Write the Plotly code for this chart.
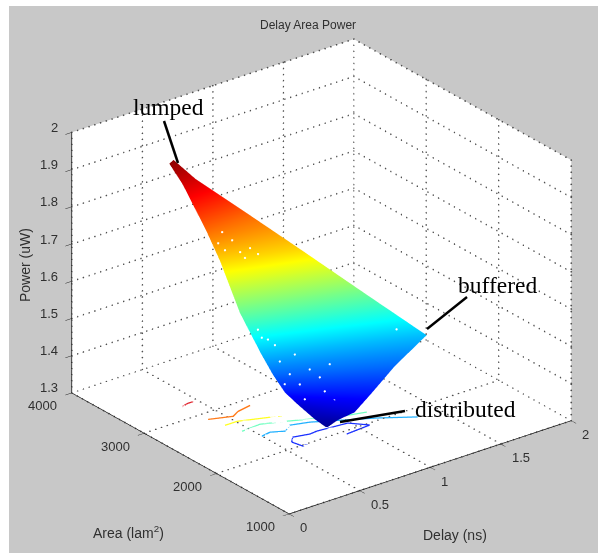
import numpy as np
import plotly.graph_objects as go

# --- surface: each row is one power level, left and right edge
power_rows = [1.94, 1.899, 1.808, 1.741, 1.625, 1.524, 1.473, 1.422, 1.381, 1.351, 1.336]
delay_left = [0.361, 0.381, 0.385, 0.401, 0.420, 0.490, 0.527, 0.589, 0.672, 0.719, 0.750]
delay_right = [0.411, 0.479, 0.701, 0.853, 1.130, 1.373, 1.135, 0.968, 0.862, 0.814, 0.760]
area_left = [3355, 3215, 2895, 2733, 2496, 2343, 2251, 2205, 2189, 2046, 1955]
area_right = [3397, 3226, 2903, 2511, 2128, 1776, 1753, 1747, 1775, 1914, 1945]

# --- small gaps seen in the surface
gap_delay = [.354, .382, .437, .461, .522, .555, .395, .481, .429, .497, .525, .578,
             .627, .600, .681, .731, .751, .804, .439, 1.150, .547, .472, .788, .641]
gap_area = [2669, 2629, 2638, 2574, 2556, 2510, 2694, 2546, 2266, 2164, 2151, 2116,
            2074, 2090, 2042, 2000, 1971, 1936, 2232, 1756, 2126, 2212, 1974, 2031]
gap_power = [1.802, 1.784, 1.803, 1.775, 1.780, 1.765, 1.824, 1.760, 1.604, 1.565, 1.519, 1.482,
             1.453, 1.535, 1.490, 1.467, 1.430, 1.406, 1.585, 1.570, 1.458, 1.578, 1.498, 1.416]

# --- floor contours
contours = {
    "#e0202a": ([0.383, 0.429, 0.471], [3218, 3239, 3239]),
    "#ff7a1a": ([0.394, 0.530, 0.592, 0.693], [2885, 2804, 2856, 2887]),
    "#ffff20": ([0.422, 0.508, 0.687, 0.852], [2706, 2706, 2600, 2509]),
    "#70ffc0": ([0.450, 0.586, 0.730, 1.020, 1.159], [2526, 2543, 2452, 2244, 2183]),
    "#20b0ff": ([0.499, 0.567, 0.641, 0.712, 0.825, 1.155, 1.346], [2347, 2368, 2307, 2375, 2319, 2040, 1846]),
    "#1a30ff": ([0.678, 0.602, 0.585, 0.629, 0.729, 0.784, 0.986, 1.068, 0.894],
                [1995, 1984, 2102, 2174, 2134, 2144, 2110, 1967, 1945]),
}

delay_ticks = [0, 0.5, 1, 1.5, 2]
area_ticks = [1000, 2000, 3000, 4000]
power_ticks = [1.3, 1.4, 1.5, 1.6, 1.7, 1.8, 1.9, 2]

jet = [[0, "#00008f"], [0.125, "#0000ff"], [0.375, "#00ffff"], [0.625, "#ffff00"],
       [0.875, "#ff0000"], [1, "#800000"]]
GRAY = "#c8c8c8"
TICK = "#303030"
W, H = 598, 553

fig = go.Figure()

dmax, amax, pmin, pmax = delay_ticks[-1], area_ticks[-1], power_ticks[0], power_ticks[-1]
dmin, amin = delay_ticks[0], area_ticks[0]

# dotted grid on the three back walls, as small dots along each tick line
gx, gy, gz = [], [], []
def grid(a, b, n):
    for t in np.linspace(0, 1, n):
        gx.append(a[0] + (b[0] - a[0]) * t)
        gy.append(a[1] + (b[1] - a[1]) * t)
        gz.append(a[2] + (b[2] - a[2]) * t)

for d in delay_ticks:
    grid((d, amax, pmin), (d, amax, pmax), 44)
    grid((d, amin, pmin), (d, amax, pmin), 42)
for a in area_ticks:
    grid((dmax, a, pmin), (dmax, a, pmax), 44)
    grid((dmin, a, pmin), (dmax, a, pmin), 50)
for p in power_ticks:
    grid((dmin, amax, p), (dmax, amax, p), 50)
    grid((dmax, amin, p), (dmax, amax, p), 42)

fig.add_trace(go.Scatter3d(x=gx, y=gy, z=gz, mode="markers", hoverinfo="skip", showlegend=False,
                           marker=dict(color="#505050", size=1.0, line=dict(width=0))))

for col, (dx, ax) in contours.items():
    fig.add_trace(go.Scatter3d(x=dx, y=ax, z=[pmin] * len(dx), mode="lines", hoverinfo="skip",
                               showlegend=False, line=dict(color=col, width=3)))

fig.add_trace(go.Surface(
    x=[[l, r] for l, r in zip(delay_left, delay_right)],
    y=[[l, r] for l, r in zip(area_left, area_right)],
    z=[[p, p] for p in power_rows],
    surfacecolor=[[p, p] for p in power_rows],
    colorscale=jet, cmin=1.33, cmax=1.95, showscale=False,
    lighting=dict(ambient=1, diffuse=0, specular=0, roughness=1, fresnel=0),
    hoverinfo="skip",
))

fig.add_trace(go.Scatter3d(x=gap_delay, y=gap_area, z=gap_power, mode="markers", hoverinfo="skip",
                           showlegend=False, marker=dict(color="white", size=1.3, line=dict(width=0))))

def axis(rng, ticks):
    return dict(range=rng, tickvals=ticks, showgrid=False, zeroline=False, showspikes=False,
                showbackground=True, backgroundcolor="white", showline=True, linecolor="#101010",
                linewidth=1.5, ticks="outside", ticklen=8, tickcolor="#202020", tickwidth=1,
                showticklabels=False, title=dict(text=""))

# tick labels sit at their data positions
tick_font = dict(family="Liberation Sans", size=13, color=TICK)
scene_notes = []
for d in delay_ticks:
    scene_notes.append(dict(x=d, y=amin, z=pmin, text=str(d), showarrow=False, xanchor="left",
                            xshift=9, yshift=-14, font=tick_font))
for a in area_ticks:
    scene_notes.append(dict(x=dmin, y=a, z=pmin, text=str(a), showarrow=False, xanchor="center",
                            xshift=-29, yshift=-13, font=tick_font))
for p in power_ticks:
    scene_notes.append(dict(x=dmin, y=amax, z=p, text=str(p), showarrow=False, xanchor="right",
                            xshift=-12, yshift=5, font=tick_font))

def px_line(x0, y0, x1, y1):
    return dict(type="line", xref="paper", yref="paper", x0=x0 / W, y0=1 - y0 / H, x1=x1 / W, y1=1 - y1 / H,
                line=dict(color="black", width=2.5))

def px_rect(x0, y0, x1, y1):
    return dict(type="rect", xref="paper", yref="paper", x0=x0 / W, y0=1 - y0 / H, x1=x1 / W, y1=1 - y1 / H,
                line=dict(width=0), fillcolor="white")

ZOOM = 1.288
fig.update_layout(
    width=W, height=H, margin=dict(l=0, r=0, t=0, b=0), paper_bgcolor=GRAY,
    showlegend=False,
    scene=dict(
        domain=dict(x=[0.0753, 1], y=[0, 1]),
        bgcolor=GRAY,
        xaxis=axis([dmin, dmax], delay_ticks),
        yaxis=axis([amin, amax], area_ticks),
        zaxis=axis([pmin, pmax], power_ticks),
        aspectmode="manual", aspectratio=dict(x=ZOOM, y=ZOOM, z=0.81 * ZOOM),
        camera=dict(projection=dict(type="orthographic"),
                    center=dict(x=0, y=0, z=0),
                    up=dict(x=0, y=0, z=1),
                    eye=dict(x=-0.551 * 1.6, y=-0.715 * 1.6, z=0.4286 * 1.6)),
        annotations=scene_notes,
    ),
    shapes=[
        px_line(164, 121, 178, 163),
        px_line(467, 297, 427, 329),
        px_line(405, 411, 340, 422),
        px_rect(0, 0, 9, H),
        px_rect(0, 0, W, 6),
    ],
)

def note(text, x, y, size, family="Liberation Serif", color="black", angle=0):
    fig.add_annotation(text=text, xref="paper", yref="paper", x=x / W, y=1 - y / H, showarrow=False,
                       font=dict(family=family, size=size, color=color), textangle=angle,
                       xanchor="center", yanchor="middle")

note("lumped", 168, 107, 23.5)
note("buffered", 497, 285, 23.5)
note("distributed", 465, 409, 23.5)
note("Delay Area Power", 308, 25, 12, "Liberation Sans", TICK)
note("Area (lam<sup>2</sup>)", 128, 532, 14, "Liberation Sans", TICK)
note("Delay (ns)", 455, 535, 14, "Liberation Sans", TICK)
note("Power (uW)", 25, 265, 14, "Liberation Sans", TICK, -90)

fig.write_html("out.html", config=dict(displayModeBar=False),
               post_script="document.body.style.margin='0';")
